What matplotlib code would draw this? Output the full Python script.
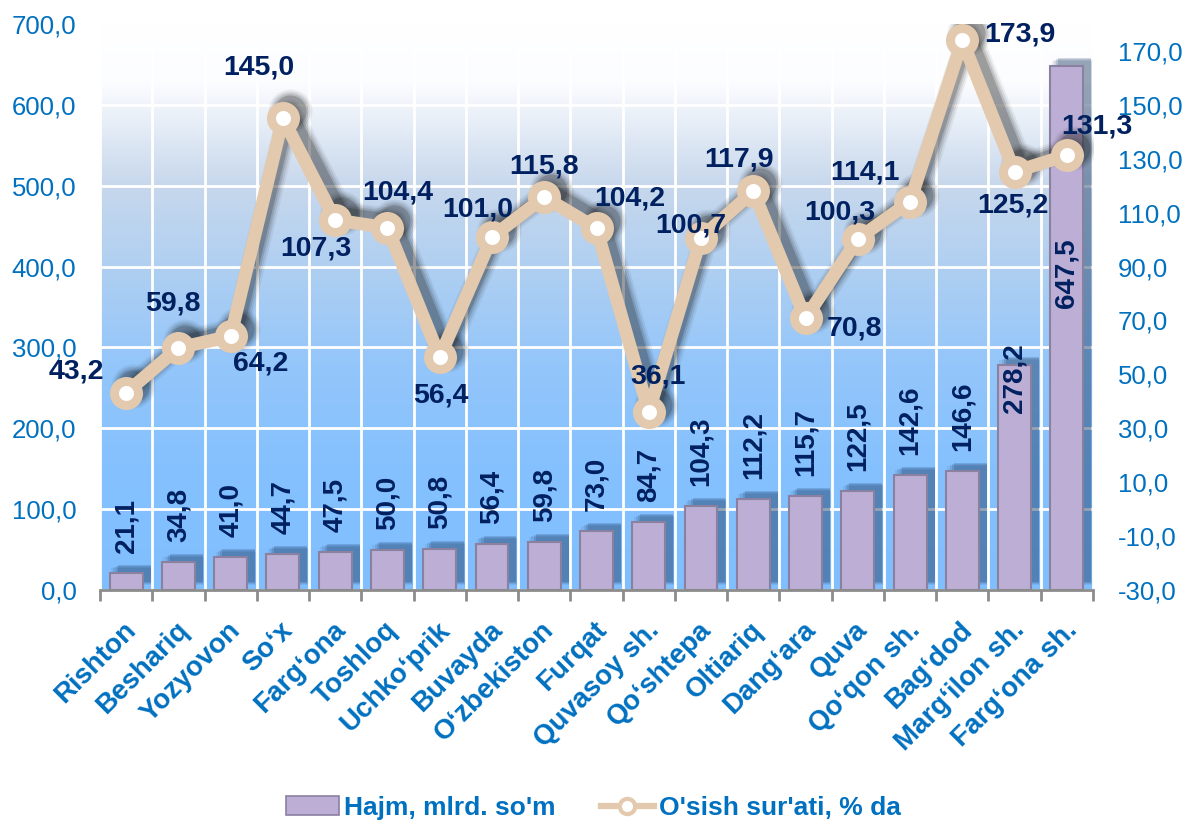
import numpy as np
import matplotlib.pyplot as plt
import matplotlib.transforms as mtransforms
from matplotlib.patches import Patch
from matplotlib.lines import Line2D
from matplotlib.ticker import FuncFormatter, FixedLocator

plt.rcParams['font.family'] = ['Liberation Sans', 'DejaVu Sans']

# data
districts = ['Rishton', 'Beshariq', 'Yozyovon', 'So‘x', 'Farg‘ona', 'Toshloq',
             'Uchko‘prik', 'Buvayda', 'O‘zbekiston', 'Furqat', 'Quvasoy sh.',
             'Qo‘shtepa', 'Oltiariq', 'Dang‘ara', 'Quva', 'Qo‘qon sh.',
             'Bag‘dod', 'Marg‘ilon sh.', 'Farg‘ona sh.']
volume = [21.1, 34.8, 41.0, 44.7, 47.5, 50.0, 50.8, 56.4, 59.8, 73.0, 84.7,
          104.3, 112.2, 115.7, 122.5, 142.6, 146.6, 278.2, 647.5]
growth = [43.2, 59.8, 64.2, 145.0, 107.3, 104.4, 56.4, 101.0, 115.8, 104.2,
          36.1, 100.7, 117.9, 70.8, 100.3, 114.1, 173.9, 125.2, 131.3]
left_ticks = [0, 100, 200, 300, 400, 500, 600, 700]
right_ticks = [-30, -10, 10, 30, 50, 70, 90, 110, 130, 150, 170]

# label offsets for the line values (pixels, x right / y up)
line_lbl_off = [(-50, 21), (-5, 44), (30, -27), (-24, 51), (-19, -29), (10, 35),
                (1, -38), (-14, 27), (0, 31), (33, 30), (9, 35), (-10, 12),
                (-14, 32), (49, -10), (-18, 26), (-45, 29), (58, 6), (-2, -34),
                (30, 29)]

blue = '#0070c0'
navy = '#002060'
tan = '#e3c9ad'
purple = '#bcaed4'

def fmt(v, pos=None):
    return ('%.1f' % v).replace('.', ',')

fig = plt.figure(figsize=(11.87, 8.25), dpi=100)
ax = fig.add_axes([100/1187, 1 - 590/825, 993/1187, 566/825])
ax2 = ax.twinx()

x = np.arange(len(districts))

# background gradient
stops = np.array([[0.0, 255, 255, 255],
                  [0.10, 252, 253, 255],
                  [0.28, 200, 216, 236],
                  [0.45, 172, 206, 242],
                  [0.60, 148, 198, 250],
                  [0.78, 133, 193, 254],
                  [1.0, 128, 190, 255]])
t = np.linspace(0, 1, 300)
grad = np.stack([np.interp(t, stops[:, 0], stops[:, c]) for c in (1, 2, 3)], axis=1) / 255.0
ax.imshow(grad[:, None, :], extent=[0, 1, 0, 1], transform=ax.transAxes,
          aspect='auto', zorder=0, interpolation='bilinear')

# bar shadows (fake blur with a few layers)
for dx, dy, extra, a in [(5, 5, 0.14, 0.08), (6, 6, 0.09, 0.12), (7, 7, 0.04, 0.16), (8, 8, 0.0, 0.2)]:
    off = mtransforms.ScaledTranslation(dx / 100, dy / 100, fig.dpi_scale_trans)
    ax.bar(x, volume, width=0.63 + extra, color='#1e3c64', alpha=a,
           transform=ax.transData + off, zorder=1.5, linewidth=0)

ax.bar(x, volume, width=0.63, color=purple, edgecolor='#8a80a0', linewidth=1.5, zorder=2)

for i, v in enumerate(volume):
    if v > 600:
        ax.annotate(fmt(v), (i, v), xytext=(0, -172), textcoords='offset pixels',
                    rotation=90, ha='center', va='top', fontsize=20,
                    fontweight='bold', color=navy, zorder=3)
    elif v > 200:
        ax.annotate(fmt(v), (i, v), xytext=(0, 22), textcoords='offset pixels',
                    rotation=90, ha='center', va='top', fontsize=20,
                    fontweight='bold', color=navy, zorder=3)
    else:
        ax.annotate(fmt(v), (i, v), xytext=(0, 20), textcoords='offset pixels',
                    rotation=90, ha='center', va='bottom', fontsize=20,
                    fontweight='bold', color=navy, zorder=3)

ax.set_xlim(-0.5, len(districts) - 0.5)
ax.set_ylim(0, 700)
ax.yaxis.set_major_locator(FixedLocator(left_ticks))
ax.yaxis.set_major_formatter(FuncFormatter(fmt))
ax.set_xticks(x)
ax.set_xticklabels(districts)
ax.xaxis.set_minor_locator(FixedLocator(np.arange(-0.5, len(districts), 1.0)))
ax.grid(axis='y', which='major', color='white', linewidth=2)
ax.grid(axis='x', which='minor', color='white', linewidth=2)
ax.set_axisbelow(True)
ax.tick_params(axis='x', which='major', length=0, labelsize=20, colors=blue, pad=0)
ax.tick_params(axis='x', which='minor', length=8, width=2, color='#8c8c8c', direction='out')
ax.tick_params(axis='y', length=0, labelsize=18.5, colors=blue, pad=17)
for lab in ax.get_xticklabels():
    lab.set_rotation(45)
    lab.set_ha('right')
    lab.set_va('top')
    lab.set_rotation_mode('anchor')
    lab.set_fontweight('bold')
    lab.set_transform(lab.get_transform() +
                      mtransforms.ScaledTranslation(-0.03, -0.27, fig.dpi_scale_trans))
for s in ['left', 'right', 'top']:
    ax.spines[s].set_visible(False)
ax.spines['bottom'].set_color('#8c8c8c')
ax.spines['bottom'].set_linewidth(2)
ax.spines['bottom'].set_zorder(5)

# line with shadow
for lw, a in [(24, 0.06), (20, 0.09), (16, 0.13), (12, 0.2)]:
    off = mtransforms.ScaledTranslation(0.07, 0.07, fig.dpi_scale_trans)
    ax2.plot(x, growth, color='#101010', alpha=a, linewidth=lw * 0.72,
             solid_joinstyle='round', solid_capstyle='round',
             transform=ax2.transData + off, zorder=1)
    ax2.plot(x, growth, linestyle='none', marker='o', markersize=(20 + lw) * 0.72,
             color='#101010', alpha=a, transform=ax2.transData + off, zorder=1,
             markeredgewidth=0)
ax2.plot(x, growth, color=tan, linewidth=13 * 0.72, marker='o', markersize=24 * 0.72,
         markerfacecolor='white', markeredgecolor=tan, markeredgewidth=9 * 0.72,
         solid_joinstyle='round', zorder=2)

for i, v in enumerate(growth):
    ax2.annotate(fmt(v), (i, v), xytext=line_lbl_off[i], textcoords='offset pixels',
                 ha='center', va='center', fontsize=20.5, fontweight='bold',
                 color=navy, zorder=4)

ax2.set_ylim(-30, 180)
ax2.yaxis.set_major_locator(FixedLocator(right_ticks))
ax2.yaxis.set_major_formatter(FuncFormatter(fmt))
ax2.tick_params(axis='y', length=0, labelsize=18.5, colors=blue, pad=18)
for s in ax2.spines.values():
    s.set_visible(False)

handles = [Patch(facecolor=purple, edgecolor='#8a80a0', linewidth=1.2),
           Line2D([0], [0], color=tan, linewidth=4.5, marker='o', markersize=11,
                  markerfacecolor='white', markeredgecolor=tan, markeredgewidth=3)]
leg = fig.legend(handles, ['Hajm, mlrd. so\'m', 'O\'sish sur\'ati, % da'],
                 loc='center', bbox_to_anchor=(0.5, 17/825), ncol=2, frameon=False,
                 handlelength=2.0, handleheight=0.75, handletextpad=0.2,
                 columnspacing=1.7, prop={'size': 19, 'weight': 'bold'})
for txt in leg.get_texts():
    txt.set_color(blue)

fig.savefig('out.png', dpi=100)
